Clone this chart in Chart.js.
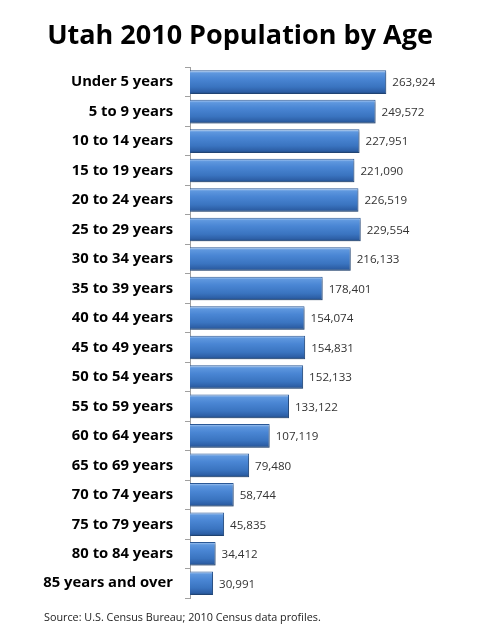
<!DOCTYPE html>
<html lang="en">
<head>
    <meta charset="UTF-8">
    <title>Utah 2010 Population by Age</title>
    <script src="https://cdn.jsdelivr.net/npm/chart.js"></script>
    <style>
        html, body { margin: 0; padding: 0; background: #fff; }
        #wrap { width: 480px; height: 640px; position: relative; }
    </style>
</head>
<body>
    <div id="wrap"><canvas id="chart"></canvas></div>
    <script>
        // data
        const ageGroups = ['Under 5 years', '5 to 9 years', '10 to 14 years', '15 to 19 years',
            '20 to 24 years', '25 to 29 years', '30 to 34 years', '35 to 39 years',
            '40 to 44 years', '45 to 49 years', '50 to 54 years', '55 to 59 years',
            '60 to 64 years', '65 to 69 years', '70 to 74 years', '75 to 79 years',
            '80 to 84 years', '85 years and over'];
        const population = [263924, 249572, 227951, 221090, 226519, 229554, 216133, 178401,
            154074, 154831, 152133, 133122, 107119, 79480, 58744, 45835, 34412, 30991];
        const sourceNote = 'Source: U.S. Census Bureau; 2010 Census data profiles.';

        const FONT = "'Open Sans', 'Noto Sans', sans-serif";
        const BAR_PCT = 0.8;

        // vertical shading for each bar, worked out from the category scale
        function barShade(c) {
            const y = c.chart.scales.y;
            if (!y || c.dataIndex === undefined) return '#3c78c8';
            const pitch = Math.abs(y.getPixelForValue(1) - y.getPixelForValue(0));
            const mid = y.getPixelForValue(c.dataIndex);
            if (!Number.isFinite(pitch) || !Number.isFinite(mid) || pitch === 0) return '#3c78c8';
            const top = mid - pitch * BAR_PCT / 2, bottom = mid + pitch * BAR_PCT / 2;
            const g = c.chart.ctx.createLinearGradient(0, top, 0, bottom);
            g.addColorStop(0, '#b3d0f4');
            g.addColorStop(0.12, '#5e97de');
            g.addColorStop(0.35, '#4a86d4');
            g.addColorStop(0.7, '#3a74c0');
            g.addColorStop(0.9, '#2d5fa6');
            g.addColorStop(1, '#1f4a80');
            return g;
        }

        const barLook = {
            id: 'barLook',
            beforeDatasetsDraw(chart) {
                const ctx = chart.ctx;
                ctx.save();
                ctx.shadowColor = 'rgba(0,0,0,0.25)';
                ctx.shadowOffsetX = 1;
                ctx.shadowOffsetY = 2;
                ctx.shadowBlur = 2;
            },
            afterDatasetsDraw(chart) {
                const ctx = chart.ctx;
                ctx.restore();
                ctx.save();
                ctx.font = '11.6px ' + FONT;
                ctx.fillStyle = '#333';
                ctx.textBaseline = 'middle';
                chart.getDatasetMeta(0).data.forEach((bar, i) => {
                    ctx.fillText(population[i].toLocaleString('en-US'), bar.x + 6, bar.y + 1);
                });
                ctx.restore();
            },
            afterDraw(chart) {
                const ctx = chart.ctx;
                ctx.save();
                ctx.font = '10.8px ' + FONT;
                ctx.fillStyle = '#222';
                ctx.textBaseline = 'middle';
                ctx.fillText(sourceNote, 44, 618);
                ctx.restore();
            }
        };

        new Chart(document.getElementById('chart'), {
            type: 'bar',
            data: {
                labels: ageGroups,
                datasets: [{
                    data: population,
                    backgroundColor: barShade,
                    borderColor: '#2a5896',
                    borderWidth: 1,
                    barPercentage: BAR_PCT,
                    categoryPercentage: 1
                }]
            },
            options: {
                indexAxis: 'y',
                responsive: true,
                maintainAspectRatio: false,
                animation: false,
                layout: { padding: { left: 0, right: 0, top: 0, bottom: 42 } },
                plugins: {
                    legend: { display: false },
                    tooltip: { enabled: false },
                    title: {
                        display: true,
                        text: 'Utah 2010 Population by Age',
                        color: '#000',
                        font: { family: FONT, size: 27, weight: 'bold' },
                        padding: { top: 20, bottom: 15 }
                    }
                },
                scales: {
                    x: { display: false, min: 0, max: 390000 },
                    y: {
                        afterFit: s => { s.width = 190; },
                        grid: {
                            offset: true,
                            drawOnChartArea: false,
                            tickLength: 5,
                            color: '#a0a0a0'
                        },
                        border: { display: true, color: '#a0a0a0' },
                        ticks: {
                            color: '#000',
                            padding: 12,
                            font: { family: FONT, size: 14.8, weight: 'bold' }
                        }
                    }
                }
            },
            plugins: [barLook]
        });
    </script>
</body>
</html>
